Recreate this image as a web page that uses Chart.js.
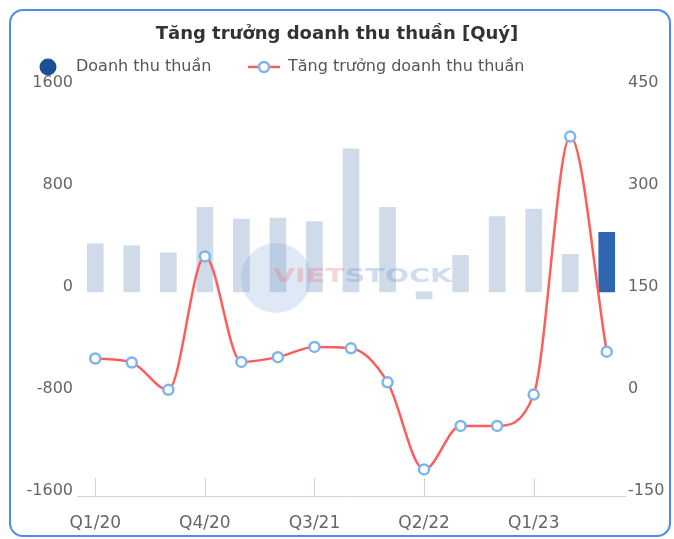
<!DOCTYPE html>
<html>
<head>
<meta charset="utf-8">
<script src="https://cdn.jsdelivr.net/npm/chart.js@4"></script>
<style>
  html, body { margin: 0; padding: 0; background: #fff; }
  #wrap { position: relative; width: 674px; height: 539px; }
  #khung {
    position: absolute; left: 9px; top: 9px; width: 658px; height: 524px;
    border: 2px solid #4a8cf0; border-radius: 14px; pointer-events: none;
  }
  canvas { position: absolute; left: 0; top: 0; }
</style>
</head>
<body>
<div id="wrap">
  <canvas id="bieuDo" width="674" height="539"></canvas>
  <div id="khung"></div>
</div>
<script>
// Dữ liệu
const quy = ["Q1/20", "Q2/20", "Q3/20", "Q4/20", "Q1/21", "Q2/21", "Q3/21", "Q4/21",
  "Q1/22", "Q2/22", "Q3/22", "Q4/22", "Q1/23", "Q2/23", "Q3/23"];
const doanhThu = [376, 361, 306, 661, 570, 578, 551, 1121, 661, -55, 285, 590, 648, 293, 465];
const tangTruong = [52, 46, 6, 202, 47, 54, 69, 67, 17, -111, -47, -47, -1, 378, 62];
const tickTrai = [-1600, -800, 0, 800, 1600];
const tickPhai = [-150, 0, 150, 300, 450];

const mauCot = doanhThu.map((v, i) => (i === doanhThu.length - 1 ? "#2f66b0" : "#d0dbea"));
const font = "DejaVu Sans";

// Vạch chia trục x (hướng lên)
const vachTrucX = {
  id: "vachTrucX",
  afterDatasetsDraw(chart) {
    const x = chart.scales.x;
    const ctx = chart.ctx;
    ctx.save();
    ctx.strokeStyle = "#ccd6eb";
    ctx.lineWidth = 1;
    for (let i = 0; i < quy.length; i += 3) {
      const px = Math.round(x.getPixelForValue(i)) + 0.5;
      ctx.beginPath();
      ctx.moveTo(px, chart.chartArea.bottom);
      ctx.lineTo(px, chart.chartArea.bottom - 18);
      ctx.stroke();
    }
    ctx.restore();
  },
};

// Logo mờ
const logoMo = {
  id: "logoMo",
  afterDatasetsDraw(chart) {
    const ctx = chart.ctx;
    ctx.save();
    ctx.fillStyle = "rgba(110,155,210,0.22)";
    ctx.beginPath();
    ctx.arc(276, 278, 35, 0, Math.PI * 2);
    ctx.fill();
    ctx.font = "bold 19px " + font;
    ctx.textBaseline = "middle";
    const w = ctx.measureText("VIETSTOCK").width;
    ctx.translate(273, 277);
    ctx.scale(179 / w, 1);
    ctx.fillStyle = "rgba(235,120,120,0.3)";
    ctx.fillText("VIET", 0, 0);
    const w2 = ctx.measureText("VIET").width;
    ctx.fillStyle = "rgba(110,150,205,0.32)";
    ctx.fillText("STOCK", w2, 0);
    ctx.restore();
  },
};

// Chú thích tự vẽ
const chuThich = {
  id: "chuThich",
  afterDraw(chart) {
    const ctx = chart.ctx;
    const y = 67;
    ctx.save();
    ctx.font = "16px " + font;
    ctx.textBaseline = "middle";
    // cột
    ctx.fillStyle = "#1f4f96";
    ctx.beginPath();
    ctx.arc(48, y, 8.5, 0, Math.PI * 2);
    ctx.fill();
    ctx.fillStyle = "#555";
    ctx.fillText(chart.data.datasets[0].label, 76, y);
    // đường
    ctx.strokeStyle = "#ff5c5c";
    ctx.lineWidth = 2.5;
    ctx.beginPath();
    ctx.moveTo(248, y);
    ctx.lineTo(280, y);
    ctx.stroke();
    ctx.beginPath();
    ctx.arc(264, y, 5, 0, Math.PI * 2);
    ctx.fillStyle = "#fff";
    ctx.fill();
    ctx.strokeStyle = "#7cb5ec";
    ctx.stroke();
    ctx.fillStyle = "#555";
    ctx.fillText(chart.data.datasets[1].label, 288, y);
    ctx.restore();
  },
};

new Chart(document.getElementById("bieuDo"), {
  type: "bar",
  data: {
    labels: quy,
    datasets: [
      {
        type: "bar",
        label: "Doanh thu thuần",
        data: doanhThu,
        backgroundColor: mauCot,
        barThickness: 16,
        yAxisID: "y",
        order: 2,
      },
      {
        type: "line",
        label: "Tăng trưởng doanh thu thuần",
        data: tangTruong,
        borderColor: "#ff5c5c",
        borderWidth: 2.5,
        cubicInterpolationMode: "monotone",
        pointRadius: 5,
        pointBorderWidth: 2.5,
        pointBackgroundColor: "#fff",
        pointBorderColor: "#7cb5ec",
        yAxisID: "y1",
        order: 1,
      },
    ],
  },
  options: {
    responsive: false,
    animation: false,
    devicePixelRatio: 1,
    layout: { padding: { top: 0, left: 0, right: 0, bottom: 0 } },
    plugins: {
      legend: { display: false },
      tooltip: { enabled: false },
      title: {
        display: true,
        text: "Tăng trưởng doanh thu thuần [Quý]",
        color: "#333",
        font: { family: font, size: 18, weight: "bold" },
        padding: { top: 24, bottom: 42 },
      },
    },
    scales: {
      x: {
        grid: { display: false, drawTicks: false },
        border: { display: true, color: "#ccd6eb", width: 1 },
        ticks: {
          autoSkip: false,
          maxRotation: 0,
          padding: 17,
          color: "#666",
          font: { family: font, size: 17 },
          callback: function (v, i) {
            return i % 3 === 0 ? this.getLabelForValue(v) : "";
          },
        },
        afterFit(s) { s.height = 43; },
      },
      y: {
        position: "left",
        min: tickTrai[0],
        max: tickTrai[tickTrai.length - 1],
        afterBuildTicks(s) { s.ticks = tickTrai.map((v) => ({ value: v })); },
        grid: { display: false, drawTicks: false },
        border: { display: false },
        ticks: {
          padding: 4, labelOffset: -5, color: "#666", font: { family: font, size: 16 },
          callback: (v) => String(v),
        },
        afterFit(s) { s.width = 77; },
      },
      y1: {
        position: "right",
        min: tickPhai[0],
        max: tickPhai[tickPhai.length - 1],
        afterBuildTicks(s) { s.ticks = tickPhai.map((v) => ({ value: v })); },
        grid: { display: false, drawTicks: false },
        border: { display: false },
        ticks: {
          padding: 3, labelOffset: -5, color: "#666", font: { family: font, size: 16 },
          callback: (v) => String(v),
        },
        afterFit(s) { s.width = 49; },
      },
    },
  },
  plugins: [vachTrucX, logoMo, chuThich],
});
</script>
</body>
</html>
